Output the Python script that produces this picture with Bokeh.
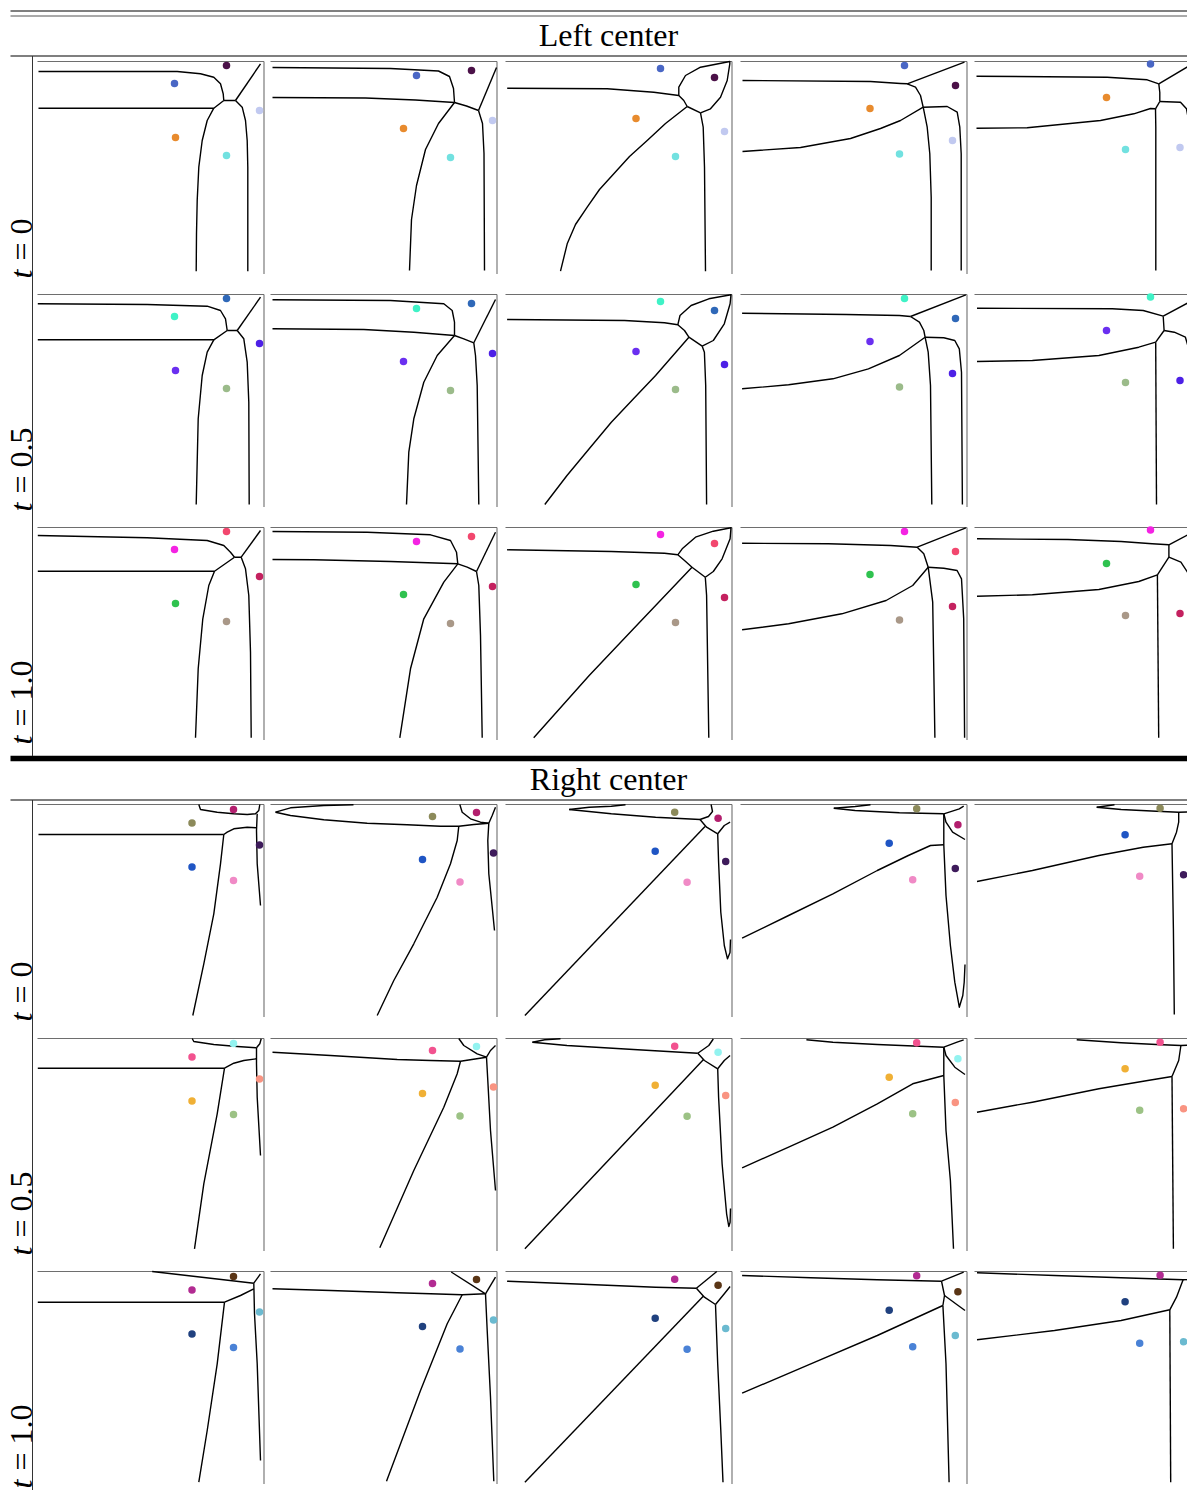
import math
from bokeh.plotting import figure
from bokeh.models import Range1d
from bokeh.core.properties import value
from bokeh.embed import file_html
from bokeh.resources import INLINE

# ---------------- data ----------------
SECTION_TITLES = ["Left center", "Right center"]
ROW_VALUES = ["0", "0.5", "1.0"]

# site positions per column (panel units: x to the right, y downward)
LEFT_SITE_X = [[137, 189, 222, 138, 189], [146, 201, 222, 133, 180], [155, 209, 219, 130.5, 170],
               [164, 215, 212, 129.5, 159], [176, 221, 205.5, 132, 151]]
LEFT_SITE_Y = [[22, 4, 49, 76, 94], [14, 9, 59, 67, 96], [7, 16, 70, 57, 95],
               [4, 24, 79, 47, 92.5], [2.5, 34, 86, 36, 88]]
RIGHT_SITE_X = [[196, 154.5, 222, 154.5, 196], [206, 162, 223, 152, 189.5], [212.6, 169.2, 220.2, 149.7, 181.6],
                [217.4, 176.2, 214.8, 148.7, 172.2], [221, 185.6, 209.1, 150.6, 165.2]]
RIGHT_SITE_Y = [[5, 18.5, 40.5, 62.5, 76], [8, 12, 48.5, 55, 77.5], [13.7, 7.7, 57, 46.7, 77.7],
                [20.3, 4.3, 64, 38.7, 75.3], [27.7, 3.7, 70.3, 30.3, 71.7]]

# site colours per row (t = 0, 0.5, 1.0)
LEFT_COLORS = [["#4a67c5", "#4b1148", "#c1c9f0", "#e88b2e", "#72e1e0"],
               ["#3ff2c6", "#2f68b8", "#4d20e6", "#6a2ff0", "#9bbb8a"],
               ["#f423e3", "#f2476e", "#c4215f", "#2fc24f", "#a99888"]]
RIGHT_COLORS = [["#b31f6e", "#8c8a5a", "#3e1b5b", "#1f55c4", "#f08ac6"],
                ["#93f3f0", "#f2528f", "#f99482", "#f0b035", "#9cc285"],
                ["#5a3515", "#b22b92", "#6bbad0", "#20417f", "#4a82d6"]]

# cell boundaries, one list of polylines per panel (5 panels per row)
LEFT_T0 = [
    [[(1, 10), (139.7, 10), (163, 12.3), (176.3, 15.7), (183, 22.3), (185.7, 32.3), (186.3, 39)],
     [(1, 46.7), (176.3, 46.7), (186.3, 39)], [(186.3, 39), (198, 39)], [(198, 39), (223, 2.3)],
     [(176.3, 46.7), (169.7, 59), (164.7, 79), (161.3, 105.7), (159.7, 139), (159, 172), (158.7, 209.7)],
     [(198, 39), (204.7, 45.7), (208, 59), (209.7, 79), (210.3, 105.7), (210.3, 209.7)]],
    [[(2, 6), (120, 7), (168, 9.5), (179, 15), (183, 27), (184, 41)],
     [(2, 36), (95, 36.5), (145, 38.5), (184, 41)], [(184, 41), (196, 44.5), (208, 49)], [(208, 49), (226, 6)],
     [(184, 41), (168, 62), (155, 88), (146, 124), (141, 158), (139, 209)],
     [(208, 49), (212, 62), (213.5, 92), (214, 209)]],
    [[(1.7, 26.7), (101.7, 27.3), (148.3, 30.7), (173.3, 34), (178.3, 39), (181.7, 45)],
     [(173.3, 34), (173.3, 25.7), (180, 14), (195, 5.7), (224.3, 0), (224.3, 2.3), (221.7, 19), (215, 35.7),
      (205, 47.3), (195, 51.3)],
     [(181.7, 45), (195, 51.3)],
     [(181.7, 45), (160, 62), (141.7, 79), (124, 95), (108.3, 112.3), (94, 128), (81.7, 145.7), (70, 163),
      (61.7, 182.3), (55, 209.7)],
     [(195, 51.3), (197.7, 65.7), (199, 105.7), (200, 209.7)]],
    [[(2, 19), (130, 20), (160, 22), (166.7, 22.3)], [(166.7, 22.3), (224, 0.7)],
     [(166.7, 22.3), (175, 25.7), (180, 34), (182.7, 45.7)],
     [(2, 90), (60, 86), (110, 77), (140, 67), (160, 59), (182.7, 45.7)],
     [(182.7, 45.7), (206.7, 45), (216.7, 50.7), (219.3, 65.7), (220.7, 92.3), (220.7, 209)],
     [(182.7, 45.7), (186.7, 65.7), (189.3, 92.3), (190.7, 135.7), (190.7, 209)]],
    [[(2, 14.7), (132.7, 15.7), (172.7, 18.3), (184.3, 22.3)], [(184.3, 22.3), (223, -0.5)],
     [(184.3, 22.3), (185.3, 31), (185.3, 40)], [(185.3, 40), (181, 47.3)],
     [(2, 66.7), (52.7, 66.3), (126, 59), (159.3, 52.3), (176, 47), (181, 47.3)],
     [(185.3, 40), (206, 40.7), (212, 47.3), (215.3, 65.7), (217, 92.3), (217, 209)],
     [(181, 47.3), (181.3, 65.7), (181.3, 209)]],
]
LEFT_T05 = [
    [[(0.3, 9.3), (109.7, 10), (169.7, 11.7), (183, 16), (188, 24.3), (189.7, 36)],
     [(189.7, 36), (199.7, 36)], [(199.7, 36), (223, 2.7)], [(0.3, 45.3), (176.3, 45.3), (189.7, 36)],
     [(176.3, 45.3), (169.7, 57.7), (164.7, 81), (160.7, 124.3), (158.7, 210)],
     [(199.7, 36), (206.3, 44.3), (209.7, 67.7), (211.3, 107.7), (211.7, 210)]],
    [[(2, 5.3), (120, 6), (173.3, 9.3), (181.7, 16), (184, 27.7), (184, 41)],
     [(2, 34.3), (93.3, 35), (143.3, 37.7), (184, 41)], [(184, 41), (193.3, 44.3), (203.3, 48.3)],
     [(203.3, 48.3), (225, 5)],
     [(184, 41), (166.7, 61), (153.3, 87.7), (143.3, 124.3), (138.3, 157.7), (136, 210)],
     [(203.3, 48.3), (205, 61), (206.7, 91), (208.3, 210)]],
    [[(1.6, 25), (119.1, 26), (159, 28.3), (172.3, 30.3), (179, 36), (183.4, 42.7)],
     [(172.3, 30.3), (174.5, 21), (185.6, 11), (203.3, 4.3), (225.5, 0.3), (224.6, 9.3), (218.8, 29.3),
      (207.8, 46), (196.7, 51.7)],
     [(183.4, 42.7), (196.7, 51.7)],
     [(183.4, 42.7), (150.1, 81), (128, 104.3), (105.8, 127.7), (83.7, 154.3), (61.5, 181), (39.3, 210)],
     [(196.7, 51.7), (198.9, 57.7), (200.2, 91), (201.1, 210)]],
    [[(1.6, 18.7), (105.7, 20), (158.9, 21), (170, 22)], [(170, 22), (225.4, 0.3)],
     [(170, 22), (178.9, 27.7), (183.3, 36), (184.6, 42.7)],
     [(1.6, 94.3), (48.1, 90.3), (92.4, 84.3), (127.9, 74.3), (158.9, 61), (184.6, 42.7)],
     [(184.6, 42.7), (203.3, 43.3), (214.3, 46), (218.8, 54.3), (221, 77.7), (221.9, 210)],
     [(184.6, 42.7), (187.7, 57.7), (190, 91), (191.3, 210)]],
    [[(2.5, 13.7), (137.7, 14.3), (168.7, 16), (188.7, 21.7)], [(188.7, 21.7), (226, 1.6)],
     [(188.7, 21.7), (189.6, 36)], [(189.6, 36), (181.2, 47.7)],
     [(2.5, 67), (57.9, 66), (124.4, 61), (164.3, 52.7), (181.2, 47.7)],
     [(189.6, 36), (199.8, 37.7), (210.9, 42.7), (215.3, 57.7), (217.5, 91), (218.4, 210)],
     [(181.2, 47.7), (182, 210)]],
]
LEFT_T10 = [
    [[(0.3, 8), (109.7, 10.3), (169.7, 13), (186.3, 18), (193, 24.7), (197, 29.7)],
     [(197, 29.7), (203.7, 29.7)], [(203.7, 29.7), (223, 3)], [(0.3, 43.7), (177, 43.7), (197, 29.7)],
     [(177, 43.7), (171.3, 58), (165.3, 91.3), (160.7, 141.3), (158, 210.3)],
     [(203.7, 29.7), (208, 41.3), (211.3, 68), (213, 124.7), (213.7, 210.3)]],
    [[(2, 4), (96.7, 4.7), (160, 7.3), (180, 13), (186, 24.7), (187.3, 36.3)],
     [(2, 32), (43.3, 32.3), (120, 34), (187.3, 36.3)], [(187.3, 36.3), (196.7, 39.7), (206, 44)],
     [(206, 44), (225, 4.7)],
     [(187.3, 36.3), (173.3, 54.7), (153.3, 91.3), (140, 141.3), (129.3, 210.3)],
     [(206, 44), (208.3, 58), (210, 108), (211.7, 210.3)]],
    [[(1.6, 22.3), (105.8, 24), (159, 25.7), (172.3, 27.3), (179, 33), (186.5, 39.7)],
     [(172.3, 27.3), (176.7, 21.3), (190, 9.7), (207.8, 3.7), (225.5, 0.3), (224.6, 11.3), (216.6, 31.3),
      (207.8, 44), (199.8, 49.7)],
     [(186.5, 39.7), (199.8, 49.7)],
     [(186.5, 39.7), (128, 101.3), (83.7, 148), (28.2, 210.3)],
     [(199.8, 49.7), (201.1, 68), (203.3, 210.3)]],
    [[(1.6, 15.7), (88, 16.3), (150.1, 18), (176.7, 19.7)], [(176.7, 19.7), (225.4, 0.3)],
     [(176.7, 19.7), (183.3, 26.3), (187.7, 39.7)],
     [(1.6, 102.3), (48.1, 96.3), (101.3, 86.3), (145.6, 73), (172.2, 58), (187.7, 39.7)],
     [(187.7, 39.7), (203.3, 40.7), (216.6, 43), (221, 51.3), (223.2, 91.3), (224.1, 210.3)],
     [(187.7, 39.7), (192.2, 74.7), (194.4, 210.3)]],
    [[(2.5, 11.3), (93.4, 12), (146.6, 14), (177.6, 16.3), (194.4, 17.3)], [(194.4, 17.3), (226, 0.5)],
     [(194.4, 17.3), (194.4, 29.7)], [(194.4, 29.7), (182.9, 47.3)],
     [(2.5, 68.7), (57.9, 67.3), (124.4, 62), (164.3, 54), (182.9, 47.3)],
     [(194.4, 29.7), (206.4, 34.7), (213, 44.7), (216.6, 64.7), (219.7, 210.3)],
     [(182.9, 47.3), (184.2, 210.3)]],
]
RIGHT_T0 = [
    [[(161.3, 0), (163, 5), (179.7, 7.7), (196.3, 9.3), (209.7, 10), (218, 9.3), (221.3, 6), (222.3, 0)],
     [(219.7, 9.3), (219, 26), (219.7, 59.3), (223, 101)],
     [(219, 23.3), (209.7, 22.7), (196.3, 24.3), (189.7, 27.7), (186.3, 30)],
     [(1, 30), (186.3, 30)],
     [(186.3, 30), (183, 59.3), (176.3, 109.3), (166.3, 159.3), (155.3, 211)]],
    [[(5, 7.7), (20, 11), (53.3, 15.3), (96.7, 18.7), (136.7, 20.3), (170, 21.7), (188.3, 21.7), (203.3, 20),
      (218.3, 18.7)],
     [(5, 7.7), (20, 3.3), (53.3, 1), (83, 0.2)],
     [(189.3, 0), (191.7, 7.7), (200, 14.3), (210, 17.7), (218.3, 18.7)],
     [(218.3, 18.7), (221.7, 11), (225, 2.7)],
     [(218.3, 18.7), (217.3, 36), (218.3, 69.3), (221.7, 102.7), (224, 126)],
     [(188.3, 21.7), (186.7, 36), (180, 59.3), (166.7, 92.7), (143.3, 139.3), (123.3, 176), (106.7, 211)]],
    [[(63.7, 5), (105.8, 9.3), (150.1, 12.7), (194.5, 15)],
     [(63.7, 5), (83.7, 2.7), (105.8, 1.7), (120, 0.3)],
     [(205.6, 0), (207, 7), (203, 12), (194.5, 15)],
     [(194.5, 15), (201.1, 22.7), (212.2, 29.3)],
     [(212.2, 29.3), (218.8, 21), (224.6, 17.7)],
     [(199.5, 22), (19.4, 211)],
     [(212.2, 29.3), (213.1, 57.7), (215.3, 107.7), (218.8, 141), (222, 154.3), (224.5, 148), (225, 135)]],
    [[(93.3, 3.7), (114.6, 6), (158.9, 8.3), (203.3, 9.3)],
     [(93.3, 3.7), (114.6, 2), (130, 0.3)],
     [(203.3, 9.3), (218.8, 4.3), (223.2, 1.7)],
     [(203.3, 9.3), (205.5, 17.7), (212.1, 27.7), (224.5, 35)],
     [(1.6, 133.7), (48.1, 111), (92.4, 89.3), (136.8, 66), (167.8, 51), (190, 41), (203.3, 40.3)],
     [(203.3, 9.3), (203.3, 40.3), (205.5, 91), (209.9, 141), (214.3, 177.7), (218.8, 202.7), (222.3, 191),
      (223.7, 177.7), (224.5, 160)]],
    [[(122.2, 2.7), (146.6, 5), (182, 6.7), (204.2, 7.7), (226, 7)],
     [(122.2, 2.7), (140, 0.3)],
     [(204.2, 7.7), (204.2, 17.7), (202, 27.7), (197.5, 39.3)],
     [(2.5, 77), (57.9, 66), (124.4, 51), (168.7, 42.7), (197.5, 39.3)],
     [(197.5, 39.3), (198.9, 124.3), (199.8, 210)],
     [(216, 7.4), (217.5, 11), (218.4, 41), (221, 57.7), (223, 90)]],
]
RIGHT_T05 = [
    [[(154.7, 0), (156.3, 3), (176.3, 6), (199.7, 8), (219, 9.3)],
     [(219, 9.3), (222.3, 5.3), (223.7, 0.3)],
     [(219, 9.3), (219, 25.3), (219.7, 58.7), (223, 117)],
     [(219, 20.3), (206.3, 22), (196.3, 24.7), (187, 29.7)],
     [(0.3, 29.7), (187, 29.7)],
     [(187, 29.7), (179.7, 75.3), (166.3, 145.3), (157, 210.3)]],
    [[(188.3, 0), (193.3, 7), (206.7, 15.3), (216, 18.7)],
     [(216, 18.7), (220, 12), (225, 7)],
     [(2, 13.7), (60, 17), (126.7, 21), (160, 22), (190, 22.7), (216, 18.7)],
     [(190, 22.7), (186.7, 35.3), (173.3, 68.7), (143.3, 132), (109.3, 209.3)],
     [(216, 18.7), (217.3, 42), (220, 92), (225, 152)]],
    [[(26.9, 3.7), (61.5, 7), (128, 11), (192.3, 14.7)],
     [(26.9, 3.7), (39.3, 1.3), (55, 0.3)],
     [(192.3, 14.7), (203.3, 7), (207.8, 0.5)],
     [(192.3, 14.7), (198.9, 22), (212.2, 30.3)],
     [(212.2, 30.3), (218.8, 22), (224.6, 17)],
     [(198, 21), (19.4, 210.3)],
     [(212.2, 30.3), (213.1, 58.7), (216.6, 125.3), (221.1, 175.3), (223.3, 188), (224.6, 183.7), (225, 170)]],
    [[(65.9, 1.3), (92.4, 3.7), (136.8, 6), (203.3, 8.7)],
     [(203.3, 8.7), (216.6, 3.7), (223.2, 1.3)],
     [(203.3, 8.7), (205.5, 17), (214.3, 28.7), (224.5, 36)],
     [(1.6, 129.3), (48.1, 108.7), (92.4, 88.7), (136.8, 65.3), (172.2, 45.3), (203.3, 37)],
     [(203.3, 8.7), (203.3, 37), (205.5, 92), (209.9, 142), (213, 210.3)]],
    [[(102.2, 1.3), (146.6, 4.3), (182, 6), (206.4, 7), (226, 6)],
     [(206.4, 7), (204.2, 22), (197.5, 38)],
     [(2.5, 73.7), (57.9, 63.7), (124.4, 50.3), (173.2, 42), (197.5, 38)],
     [(197.5, 38), (198.9, 210.3)],
     [(214, 6.5), (217.5, 12), (221, 60), (223, 100)]],
]
RIGHT_T10 = [
    [[(114.7, 0), (216.3, 11.7)], [(216.3, 11.7), (223, 2.3)],
     [(216.3, 11.7), (217, 42.3), (219.7, 92.3), (223, 189)],
     [(216.3, 17.3), (203, 24), (187, 30.7)], [(0.3, 30.7), (187, 30.7)],
     [(187, 30.7), (179.7, 92.3), (169.7, 159), (161.3, 210.7)]],
    [[(180.7, 0.5), (215, 22.3)], [(215, 22.3), (225, 5.7)],
     [(2, 17.3), (60, 19), (126.7, 21.3), (160, 22.3), (191.7, 23.3), (215, 22.3)],
     [(191.7, 23.3), (176.7, 52.3), (150, 119), (116, 209.7)],
     [(215, 22.3), (216.7, 59), (220, 125.7), (223.3, 209.7)]],
    [[(1.6, 9.7), (83.7, 13), (150.1, 15.7), (190.9, 16.7)], [(190.9, 16.7), (211.3, 0)],
     [(190.9, 16.7), (198.9, 25.7), (210, 33)], [(210, 33), (218.8, 22.3), (224.6, 15)],
     [(198, 24.5), (19.4, 210.7)],
     [(210, 33), (212.2, 92.3), (215.3, 159), (217.5, 210.7)]],
    [[(1.6, 4), (70.3, 6.3), (136.8, 8.3), (201, 9.7)], [(201, 9.7), (223.2, 0.7)],
     [(201, 9.7), (204, 24), (202.4, 34)], [(204, 24), (224.5, 39)],
     [(1.6, 121.7), (70.3, 92.3), (136.8, 64), (202.4, 34)],
     [(202.4, 34), (205.5, 92.3), (208.6, 210.7)]],
    [[(2.5, 1.3), (80, 4), (146.6, 6.3), (208.6, 8.3), (226, 7.5)],
     [(208.6, 8.3), (202, 25.7), (195.3, 38.3)],
     [(2.5, 68.3), (80, 59), (146.6, 49), (195.3, 38.3)],
     [(195.3, 38.3), (196.2, 210.7)],
     [(213, 8.3), (215.3, 25.7), (219.7, 59), (221, 120)]],
]

# ---------------- layout (photo pixels) ----------------
FIG_W, FIG_H = 1187, 1490
PANEL_LEFT = [37, 270, 505, 740, 974]
PANEL_TOP = [[61, 294, 527], [804, 1038, 1271]]
PANEL_W, PANEL_H = 226.5, 212.5
SERIF = value("Liberation Serif")

p = figure(width=FIG_W, height=FIG_H,
           x_range=Range1d(0, FIG_W), y_range=Range1d(FIG_H, 0),
           x_axis_type=None, y_axis_type=None, output_backend="svg",
           toolbar_location=None, min_border=0, outline_line_color=None,
           background_fill_color="white", border_fill_color="white")

# one x range per panel column and one y range per panel row, in panel units
for c, L in enumerate(PANEL_LEFT):
    p.extra_x_ranges[f"col{c}"] = Range1d(-L, FIG_W - L)
for s in range(2):
    for r, T in enumerate(PANEL_TOP[s]):
        p.extra_y_ranges[f"s{s}r{r}"] = Range1d(FIG_H - T, -T)

# rules and titles
p.segment(x0=[10], y0=[10.5], x1=[FIG_W], y1=[10.5], line_color="black", line_width=1)
p.segment(x0=[10], y0=[15.5], x1=[FIG_W], y1=[15.5], line_color="#555555", line_width=1)
p.segment(x0=[10, 10], y0=[55.5, 799.5], x1=[FIG_W, FIG_W], y1=[55.5, 799.5], line_color="black", line_width=1.1)
p.segment(x0=[10], y0=[758], x1=[FIG_W], y1=[758], line_color="black", line_width=5.5)
p.segment(x0=[32, 32], y0=[55.5, 799.5], x1=[32, 32], y1=[755.5, FIG_H], line_color="#333333", line_width=1)
p.text(x=[608, 608], y=[34, 778], text=SECTION_TITLES, text_font=SERIF, text_font_size="32px",
       text_align="center", text_baseline="middle", text_color="black")

sections = [
    (LEFT_SITE_X, LEFT_SITE_Y, LEFT_COLORS, [LEFT_T0, LEFT_T05, LEFT_T10]),
    (RIGHT_SITE_X, RIGHT_SITE_Y, RIGHT_COLORS, [RIGHT_T0, RIGHT_T05, RIGHT_T10]),
]

for s, (sx, sy, scol, rows) in enumerate(sections):
    for r in range(3):
        T = PANEL_TOP[s][r]
        # row label "t = value", rotated to read upwards
        p.text(x=[20], y=[T + 217], text=["t"], angle=math.pi / 2, text_font=SERIF,
               text_font_style="italic", text_font_size="32px", text_align="left",
               text_baseline="middle", text_color="black")
        p.text(x=[20], y=[T + 199], text=["= " + ROW_VALUES[r]], angle=math.pi / 2, text_font=SERIF,
               text_font_size="32px", text_align="left", text_baseline="middle", text_color="black")
        for c in range(5):
            kw = dict(x_range_name=f"col{c}", y_range_name=f"s{s}r{r}")
            # panel frame: top and right edges
            p.multi_line(xs=[[0, PANEL_W], [PANEL_W, PANEL_W]], ys=[[0, 0], [0, PANEL_H]],
                         line_color="#6e6e6e", line_width=1.1, **kw)
            curves = rows[r][c]
            p.multi_line(xs=[[pt[0] for pt in cv] for cv in curves],
                         ys=[[pt[1] for pt in cv] for cv in curves],
                         line_color="black", line_width=1.4, line_join="round", **kw)
            p.scatter(x=sx[c], y=sy[c], size=7.5, fill_color=scol[r], line_color=None, **kw)

open("out.html", "w").write(file_html(p, INLINE))
